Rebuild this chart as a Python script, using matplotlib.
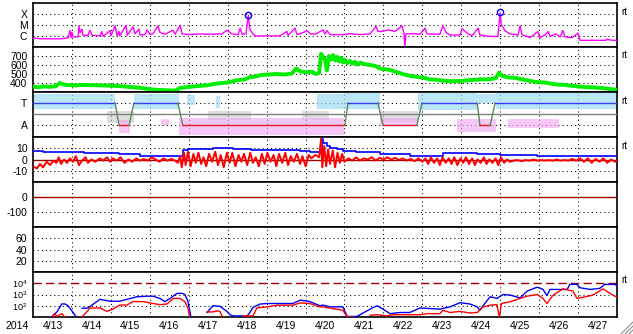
#!/usr/bin/env python
"""Solar wind / GOES style 15-day summary plot (2014-04-13 .. 2014-04-27)."""

import matplotlib
matplotlib.use("Agg")
import matplotlib.pyplot as plt
from matplotlib.lines import Line2D
import numpy as np

plt.rcParams["font.family"] = ["Liberation Sans", "DejaVu Sans"]
plt.rcParams["mathtext.default"] = "regular"
plt.rcParams["axes.unicode_minus"] = False

# ---------------------------------------------------------------- data
# time is in days since 2014-04-13 00:00 UT
day_labels = ["4/13", "4/14", "4/15", "4/16", "4/17", "4/18", "4/19", "4/20",
              "4/21", "4/22", "4/23", "4/24", "4/25", "4/26", "4/27"]

# GOES X-ray flux (W/m^2)
xray_t = [0.00, 0.18, 0.64, 0.69, 0.90, 0.95, 0.98, 1.00, 1.03, 1.16, 1.18, 1.21,
          1.26, 1.28, 1.41, 1.46, 1.52, 1.72, 1.77, 1.80, 1.98, 2.00, 2.11, 2.16,
          2.21, 2.23, 2.39, 2.42, 2.57, 2.62, 2.72, 2.75, 2.88, 2.93, 3.00, 3.08,
          3.21, 3.26, 3.39, 3.60, 3.65, 3.78, 3.83, 4.03, 4.29, 4.55, 4.85, 4.98,
          5.11, 5.27, 5.32, 5.37, 5.47, 5.53, 5.57, 5.65, 5.70, 6.09, 6.34, 6.52,
          6.55, 6.73, 6.78, 6.94, 7.04, 7.12, 7.27, 7.45, 7.50, 7.55, 7.63, 8.01,
          8.14, 8.40, 8.66, 8.81, 8.86, 8.97, 9.12, 9.30, 9.48, 9.53, 9.55, 9.58,
          9.81, 9.94, 10.07, 10.12, 10.45, 10.53, 10.61, 10.71, 10.97, 11.02, 11.15,
          11.28, 11.43, 11.48, 11.74, 11.94, 12.00, 12.03, 12.12, 12.25, 12.46,
          12.51, 12.56, 12.77, 12.97, 13.02, 13.15, 13.23, 13.28, 13.43, 13.54,
          13.61, 13.67, 13.85, 14.00, 14.05, 14.44, 14.72, 14.74, 14.87, 15.00]
xray_flux = [6.5e-7, 5.5e-7, 5.4e-7, 5.4e-7, 6.5e-7, 3.0e-6, 7e-7, 2.2e-6, 8e-7, 8e-7,
             8e-6, 2e-6, 4e-6, 1.2e-6, 1.1e-6, 3.2e-6, 1.1e-6, 1.0e-6, 2.5e-6, 9e-7,
             3e-6, 1e-6, 8e-6, 1.0e-6, 2.5e-6, 1e-6, 9e-6, 1.1e-6, 6.5e-6, 1.5e-6,
             4e-6, 1.2e-6, 1.3e-6, 3.5e-6, 1.4e-6, 1.5e-6, 8e-6, 2e-6, 1.4e-6, 3.2e-6,
             1.4e-6, 9e-6, 1.5e-6, 1.3e-6, 1.5e-6, 1.4e-6, 1.5e-6, 3.2e-6, 1.5e-6,
             1.3e-6, 5e-6, 1.4e-6, 1.5e-6, 7.3e-5, 4e-6, 1.5e-6, 1e-6, 1e-6, 1e-6,
             2.5e-6, 1.1e-6, 5e-6, 1.3e-6, 2e-6, 3e-6, 1.5e-6, 1.5e-6, 3.5e-6, 1.5e-6,
             3e-6, 1.3e-6, 1.3e-6, 1.6e-6, 1.3e-6, 1.5e-6, 7.5e-6, 2.5e-6, 2.5e-6,
             3.5e-6, 2.5e-6, 8e-6, 1.5e-6, 1.1e-7, 1.5e-6, 1.6e-6, 1.4e-6, 5e-6,
             1.5e-6, 1.4e-6, 8e-6, 2e-6, 1.2e-6, 1.2e-6, 4.5e-6, 1.8e-6, 1.0e-6, 5e-6,
             1.2e-6, 9e-7, 9e-7, 1.3e-4, 1e-5, 3e-6, 1.5e-6, 1.2e-6, 8e-6, 1.3e-6,
             7e-7, 2.5e-6, 7e-7, 1.2e-6, 2.5e-6, 9e-7, 1.5e-6, 8e-7, 3e-6, 8e-7,
             7e-7, 1.8e-6, 4e-7, 4e-7, 4e-7, 5e-7, 4e-7, 4e-7]
flare_t = [5.53, 12.00]
flare_flux = [7.3e-5, 1.3e-4]

# solar wind speed (km/s)
speed_t = [0.00, 0.13, 0.26, 0.44, 0.59, 0.69, 0.77, 0.87, 1.08, 1.28, 1.46, 1.72,
           1.98, 2.23, 2.57, 2.75, 3.01, 3.26, 3.52, 3.65, 3.78, 3.96, 4.21, 4.47,
           4.73, 4.98, 5.24, 5.45, 5.57, 5.70, 5.83, 6.01, 6.22, 6.47, 6.65, 6.76,
           6.86, 6.99, 7.17, 7.27, 7.35, 7.40, 7.45, 7.50, 7.55, 7.60, 7.66, 7.71,
           7.76, 7.81, 7.86, 7.91, 7.96, 8.01, 8.07, 8.14, 8.20, 8.27, 8.33, 8.40,
           8.53, 8.66, 8.79, 8.91, 9.17, 9.35, 9.53, 9.68, 9.86, 10.02, 10.20, 10.38,
           10.53, 10.71, 10.97, 11.23, 11.48, 11.74, 11.89, 11.97, 12.05, 12.20,
           12.38, 12.51, 12.69, 12.90, 13.15, 13.41, 13.67, 13.92, 14.18, 14.44,
           14.69, 14.87, 15.00]
speed = [360, 352, 362, 358, 365, 400, 385, 378, 372, 380, 376, 374,
         370, 366, 352, 348, 330, 322, 318, 316, 345, 355, 365, 375,
         395, 405, 430, 440, 465, 470, 488, 492, 500, 495, 505, 560,
         530, 520, 525, 500, 515, 725, 690, 660, 540, 700, 660, 710,
         650, 690, 640, 680, 630, 660, 620, 645, 615, 635, 605, 625,
         610, 600, 590, 560, 545, 520, 495, 480, 468, 460, 440, 435,
         425, 420, 422, 432, 440, 442, 455, 515, 480, 462,
         458, 445, 430, 412, 405, 385, 378, 365, 355, 350,
         340, 330, 325]

# IMF sector: +1 = toward (T), -1 = away (A)
sector_t = [0.00, 2.11, 2.21, 2.47, 2.59, 3.72, 3.85, 8.01, 8.09, 8.86, 8.99,
            9.86, 9.99, 11.41, 11.48, 11.74, 11.87, 15.00]
sector = [1, 1, -1, -1, 1, 1, -1, -1, 1, 1, -1, -1, 1, 1, -1, -1, 1, 1]

# IMF angle point clouds, read as bands: start, end, low, high
cyan_t0 = [0.0, 2.6, 3.95, 4.7, 7.3, 8.0, 9.9, 11.4, 11.9]
cyan_t1 = [2.1, 3.75, 4.15, 4.8, 8.0, 8.9, 11.4, 11.9, 15.0]
cyan_lo = [0.5, 0.45, 0.8, 0.6, 0.5, 0.5, 0.4, 1.0, 0.5]
cyan_hi = [1.85, 1.8, 1.7, 1.6, 1.8, 1.9, 1.9, 1.8, 1.95]
pink_t0 = [2.2, 3.3, 3.75, 8.9, 10.9, 12.2]
pink_t1 = [2.5, 3.5, 8.0, 9.9, 11.9, 13.5]
pink_lo = [-1.7, -1.0, -1.85, -1.0, -1.6, -1.2]
pink_hi = [-0.5, -0.4, -0.35, -0.3, -0.4, -0.4]
gray_t0 = [1.9, 4.5, 6.9, 8.9]
gray_t1 = [2.6, 5.6, 7.6, 9.9]
gray_lo = [-0.8, -0.5, -0.5, -0.7]
gray_hi = [0.3, 0.25, 0.3, 0.3]

# IMF Bt (nT)
bt_t = [0.00, 0.26, 0.60, 0.87, 1.30, 1.98, 2.20, 2.57, 2.75, 3.52, 3.70, 3.80,
        3.85, 3.98, 4.30, 4.62, 5.14, 5.60, 6.01, 6.60, 6.86, 7.11, 7.37, 7.42,
        7.45, 7.55, 7.63, 7.80, 7.96, 8.30, 8.84, 8.91, 9.43, 9.68, 10.45, 10.53,
        10.97, 11.41, 11.92, 12.00, 12.69, 12.95, 13.97, 14.30, 15.00]
bt = [7.5, 7.0, 6.8, 6.5, 6.2, 6.0, 4.8, 4.5, 3.2, 3.2, 3.0, 3.5,
      8.5, 9.5, 9.0, 9.8, 9.0, 8.8, 8.5, 8.3, 7.5, 6.5, 5.5, 18.5,
      15.0, 12.0, 10.5, 9.0, 7.5, 7.0, 6.8, 5.0, 4.7, 3.5, 3.2, 5.5,
      5.8, 5.3, 5.0, 4.0, 3.8, 3.2, 3.2, 2.8, 3.0]

# IMF Bz (nT)
bz_t = [0.00, 0.10, 0.18, 0.26, 0.35, 0.44, 0.52, 0.60, 0.66, 0.72, 0.80, 0.87,
        0.95, 1.03, 1.10, 1.18, 1.26, 1.35, 1.41, 1.50, 1.60, 1.72, 1.80, 1.90,
        1.98, 2.05, 2.15, 2.25, 2.35, 2.45, 2.55, 2.65, 2.75, 2.85, 2.95, 3.05,
        3.15, 3.25, 3.35, 3.45, 3.55, 3.65, 3.72, 3.78, 3.82, 3.88, 3.92, 3.98,
        4.05, 4.12, 4.18, 4.25, 4.32, 4.38, 4.45, 4.52, 4.60, 4.68, 4.75, 4.82,
        4.90, 4.98, 5.05, 5.12, 5.20, 5.28, 5.35, 5.42, 5.50, 5.58, 5.65, 5.72,
        5.80, 5.88, 5.95, 6.02, 6.10, 6.18, 6.25, 6.32, 6.40, 6.48, 6.55, 6.62,
        6.70, 6.78, 6.86, 6.92, 7.00, 7.08, 7.15, 7.25, 7.35, 7.40, 7.43, 7.48,
        7.53, 7.58, 7.63, 7.70, 7.76, 7.82, 7.88, 7.94, 8.00, 8.10, 8.20, 8.30,
        8.40, 8.50, 8.60, 8.70, 8.80, 8.90, 9.00, 9.10, 9.20, 9.30, 9.40, 9.50,
        9.60, 9.70, 9.80, 9.90, 10.00, 10.08, 10.15, 10.22, 10.30, 10.38, 10.45,
        10.52, 10.60, 10.68, 10.75, 10.82, 10.90, 10.98, 11.05, 11.12, 11.20,
        11.28, 11.35, 11.42, 11.50, 11.58, 11.65, 11.72, 11.80, 11.88, 11.95,
        12.02, 12.10, 12.18, 12.25, 12.35, 12.45, 12.55, 12.65, 12.75, 12.85,
        12.95, 13.05, 13.15, 13.25, 13.35, 13.45, 13.55, 13.65, 13.75, 13.85,
        13.95, 14.05, 14.15, 14.25, 14.35, 14.45, 14.55, 14.65, 14.75, 14.85,
        14.95, 15.00]
bz = [-6, -8, -4, -7, -2, -5, -1, -3, 2, -4, 0, -3,
      1, -2, 3, -5, -1, 2, -3, 0, -2, 1, -1, 2,
      -2, 1, -1, 2, -3, 0, -2, 1, -1, 0.5, -1, 2,
      0, -2, 1, -1, 0.5, -1, -3, 3, -7, 6, -5, 7,
      -6, 5, -3, 6, -4, 2, -6, 5, -2, 7, -5, 4,
      -7, 6, -3, 6, -6, 4, -2, 5, -5, 6, -3, 2,
      -6, 5, -4, 6, -2, 4, -6, 5, -3, 6, -5, 3,
      -2, 5, -4, 3, -6, 4, 1, 4, 2, 18.5, -7, 12,
      -6, 9, -4, 8, -7, 6, -3, 5, -2, 1, -1, 2,
      -1, 1, 0, 2, -1, 1.5, 0, 2, 0, 1.5, -0.5, 1,
      -1, 0.5, -1.5, 1, -2, 1, -4, 2, -3, 1, -5,
      2, -3, 1, -4, 2, -5, 1, -3, 2, -4,
      1, -5, 0, -3, 2, -4, 0, -3, 1, -5,
      2, -3, 0, -2, -1, -0.5, -1.5, -0.5, -1, 0,
      -1, -0.5, -1, -0.5, -1, 0, -1, -0.5, -1, 0.5,
      -1, 1, -2, 1, -3, 0.5, -2, 1, -3, 0,
      -2, -1]

# proton flux, log10 (pfu); nan = no data / below scale
p_blue_t = [0.49, 0.62, 0.74, 0.82, 0.90, 1.03, 1.13, 1.15, 1.26, 1.41, 1.72, 1.98,
            2.23, 2.41, 2.67, 2.93, 3.08, 3.26, 3.39, 3.52, 3.70, 3.83, 3.90, 3.98,
            4.06, 4.20, 4.47, 4.62, 4.80, 4.98, 5.06, 5.14, 5.50, 5.57, 5.65, 5.83,
            6.01, 6.68, 6.86, 7.11, 7.37, 7.45, 7.63, 7.96, 8.07, 8.32, 8.71, 8.84,
            8.99, 9.17, 9.43, 9.68, 9.94, 10.20, 10.45, 10.71, 10.97, 11.23, 11.41,
            11.48, 11.56, 11.74, 11.92, 12.07, 12.25, 12.51, 12.69, 12.95, 13.10,
            13.20, 13.28, 13.46, 13.72, 13.79, 13.97, 14.05, 14.31, 14.56, 14.69,
            14.95, 15.00]
p_blue = [1.05, 1.47, 2.16, 2.16, 2.0, 1.4, 0.9, np.nan, 1.77, 1.8, 2.57, 2.4,
          2.4, 2.57, 2.8, 2.85, 2.85, 2.65, 2.37, 2.65, 3.1, 3.1, 3.0, 2.4,
          0.9, np.nan, 1.4, 2.0, 1.95, 1.5, 1.2, 1.1, 1.1, 1.4, 1.85, 2.15,
          2.2, 2.2, 2.5, 2.37, 2.0, 2.06, 1.9, 1.9, 1.05, 1.05, 1.8, 2.0,
          1.7, 1.3, 1.4, 1.4, 1.8, 1.75, 1.7, 1.9, 2.27, 2.15, 1.9,
          1.6, 2.0, 2.8, 2.65, 3.0, 2.95, 2.7, 3.3, 3.65, 3.45,
          2.9, 3.45, 3.45, 3.45, 3.9, 3.9, 3.6, 3.45, 3.55, 3.9,
          3.9, 3.75]
p_red_t = [0.50, 0.55, 0.62, 0.74, 0.82, 0.85, 1.26, 1.41, 1.46, 1.72, 1.90, 2.05,
           2.23, 2.41, 2.57, 2.83, 3.08, 3.26, 3.44, 3.60, 3.78, 3.90, 3.98, 4.03,
           4.10, 4.47, 4.62, 4.73, 4.80, 4.88, 4.95, 5.39, 5.65, 5.75, 6.01, 6.27,
           6.68, 6.86, 7.11, 7.37, 7.45, 7.96, 8.07, 8.22, 8.30, 8.66, 8.84, 9.09,
           9.25, 9.94, 10.12, 10.45, 10.53, 10.71, 10.97, 11.23, 11.41, 11.56,
           11.74, 11.92, 11.98, 12.03, 12.25, 12.51, 12.69, 12.95, 13.10, 13.20,
           13.36, 13.61, 13.87, 13.97, 14.13, 14.38, 14.64, 14.82, 15.00]
p_red = [1.0, 1.3, 1.05, 1.3, 1.0, np.nan, 1.0, 1.57, 1.8, 1.8, 1.5, 1.7,
         2.06, 2.06, 2.37, 2.37, 2.2, 2.1, 2.15, 2.65, 2.65, 2.37, 1.8, 0.9,
         np.nan, 1.45, 1.45, 1.55, 1.5, 0.9, np.nan, 1.1, 1.1, 1.8, 1.9, 2.05,
         2.05, 2.25, 2.2, 1.9, 1.9, 1.6, 1.0, 1.0, np.nan, 1.15, 1.2, 1.1,
         1.2, 1.2, 1.3, 1.3, 1.6, 1.4, 1.5, 1.35, 1.4, 1.9,
         2.05, 2.1, 0.9, 2.2, 2.35, 2.65, 2.85, 3.0, 2.65, 2.2,
         2.95, 3.5, 3.3, 2.65, 2.75, 2.95, 3.5, 3.1, 2.75]

# ---------------------------------------------------------------- layout
W, H = 633, 334
LEFT, RIGHT = 33, 617
PANEL_EDGES = [2.5, 47, 92, 137, 182, 227, 272, 317]   # pixel rows, top to bottom

DOT = (0, (1, 3))
DARKRED = "#a00000"


def make_axes(fig):
    axes = []
    for top, bot in zip(PANEL_EDGES[:-1], PANEL_EDGES[1:]):
        ax = fig.add_axes([LEFT / W, 1 - bot / H, (RIGHT - LEFT) / W, (bot - top) / H])
        ax.set_xlim(0, 15)
        for s in ax.spines.values():
            s.set_linewidth(1.2)
        ax.tick_params(axis="both", length=0, labelsize=7.5, pad=4)
        ax.set_xticks([])
        for d in range(1, 15):
            ax.axvline(d, color="black", lw=0.75, ls=DOT, zorder=1)
        axes.append(ax)
    return axes


def hgrid(ax, values):
    for v in values:
        ax.axhline(v, color="black", lw=0.75, ls=DOT, zorder=1)


def bands(ax, t0, t1, lo, hi, color, alpha):
    for a, b, l, h in zip(t0, t1, lo, hi):
        ax.fill_between([a, b], [l, l], [h, h], color=color, alpha=alpha,
                        linewidth=0, zorder=2)


def main():
    fig = plt.figure(figsize=(W / 100, H / 100), dpi=100)
    ax1, ax2, ax3, ax4, ax5, ax6, ax7 = make_axes(fig)

    # X-ray
    ax1.set_yscale("log")
    ax1.set_ylim(1e-7, 1e-3)
    ax1.set_yticks([1e-4, 1e-5, 1e-6], ["X", "M", "C"])
    ax1.minorticks_off()
    hgrid(ax1, [1e-4, 1e-5, 1e-6])
    ax1.plot(xray_t, xray_flux, color="#ff00ff", lw=1.0, zorder=3)
    ax1.plot(flare_t, flare_flux, "o", ms=4.5, mfc="none", mec="#0000ff", mew=1.0, zorder=4)

    # solar wind speed
    ax2.set_ylim(300, 800)
    ax2.set_yticks([700, 600, 500, 400])
    hgrid(ax2, [700, 600, 500, 400])
    ax2.plot(speed_t, speed, color="#00ee00", lw=2.8, zorder=3)

    # IMF sector / angle
    ax3.set_ylim(-2.03, 1.99)
    ax3.set_yticks([1, -1], ["T", "A"])
    hgrid(ax3, [1, -1])
    bands(ax3, cyan_t0, cyan_t1, cyan_lo, cyan_hi, "#9edcf6", 0.7)
    bands(ax3, gray_t0, gray_t1, gray_lo, gray_hi, "#c4c4c4", 0.55)
    bands(ax3, pink_t0, pink_t1, pink_lo, pink_hi, "#f2a8f2", 0.65)
    ax3.axhline(0, color="#808080", lw=1.0, zorder=3)
    for i in range(len(sector_t) - 1):
        a, b = sector[i], sector[i + 1]
        if a == b:
            c = "#3c3cf0" if a > 0 else "#e02020"
        else:
            c = "#5a8a5a"
        ax3.plot(sector_t[i:i + 2], sector[i:i + 2], color=c, lw=1.0, zorder=4)

    # IMF Bt / Bz
    ax4.set_ylim(-20, 20)
    ax4.set_yticks([10, 0, -10])
    hgrid(ax4, [10, -10])
    ax4.axhline(0, color=DARKRED, lw=1.0, zorder=2)
    ax4.plot(bt_t, bt, color="#0000ff", lw=1.2, zorder=3, drawstyle="steps-post")
    ax4.plot(bz_t, bz, color="#ff0000", lw=1.4, zorder=4)

    # Dst (no data)
    ax5.set_ylim(-200, 100)
    ax5.set_yticks([0, -100])
    hgrid(ax5, [-100])
    ax5.axhline(0, color=DARKRED, lw=1.0, zorder=2)

    # empty panel
    ax6.set_ylim(0, 80)
    ax6.set_yticks([60, 40, 20])
    hgrid(ax6, [60, 40, 20])

    # protons
    ax7.set_yscale("log")
    ax7.set_ylim(1e1, 1e5)
    ax7.set_yticks([1e4, 1e3, 1e2], ["10$^4$", "10$^3$", "10$^2$"])
    ax7.tick_params(axis="y", labelsize=6.5)
    ax7.minorticks_off()
    hgrid(ax7, [1e3, 1e2])
    ax7.axhline(1e4, color=DARKRED, lw=1.0, ls=(0, (6, 3)), zorder=2)
    ax7.plot(p_blue_t, np.power(10.0, p_blue), color="#0000ff", lw=1.0, zorder=3)
    ax7.plot(p_red_t, np.power(10.0, p_red), color="#ff0000", lw=1.0, zorder=4)

    ax7.set_xticks(np.arange(15) + 0.5, day_labels)
    ax7.tick_params(axis="x", length=0, labelsize=7.5, pad=3)
    fig.text(17 / W, 1 - 326 / H, "2014", ha="center", va="center", fontsize=7.5)

    # little "rt" markers right of the panels
    for y in [12, 55, 101, 146, 280]:
        fig.text(621 / W, 1 - y / H, "rt", ha="left", va="center", fontsize=7)

    # window resize grip
    for k in (0, 4, 8):
        fig.add_artist(Line2D([(621 + k) / W, 633 / W], [0, (12 - k) / H],
                              transform=fig.transFigure, color="#909090", lw=0.8))

    fig.savefig("out.png", dpi=100)
    plt.close(fig)


if __name__ == "__main__":
    main()
